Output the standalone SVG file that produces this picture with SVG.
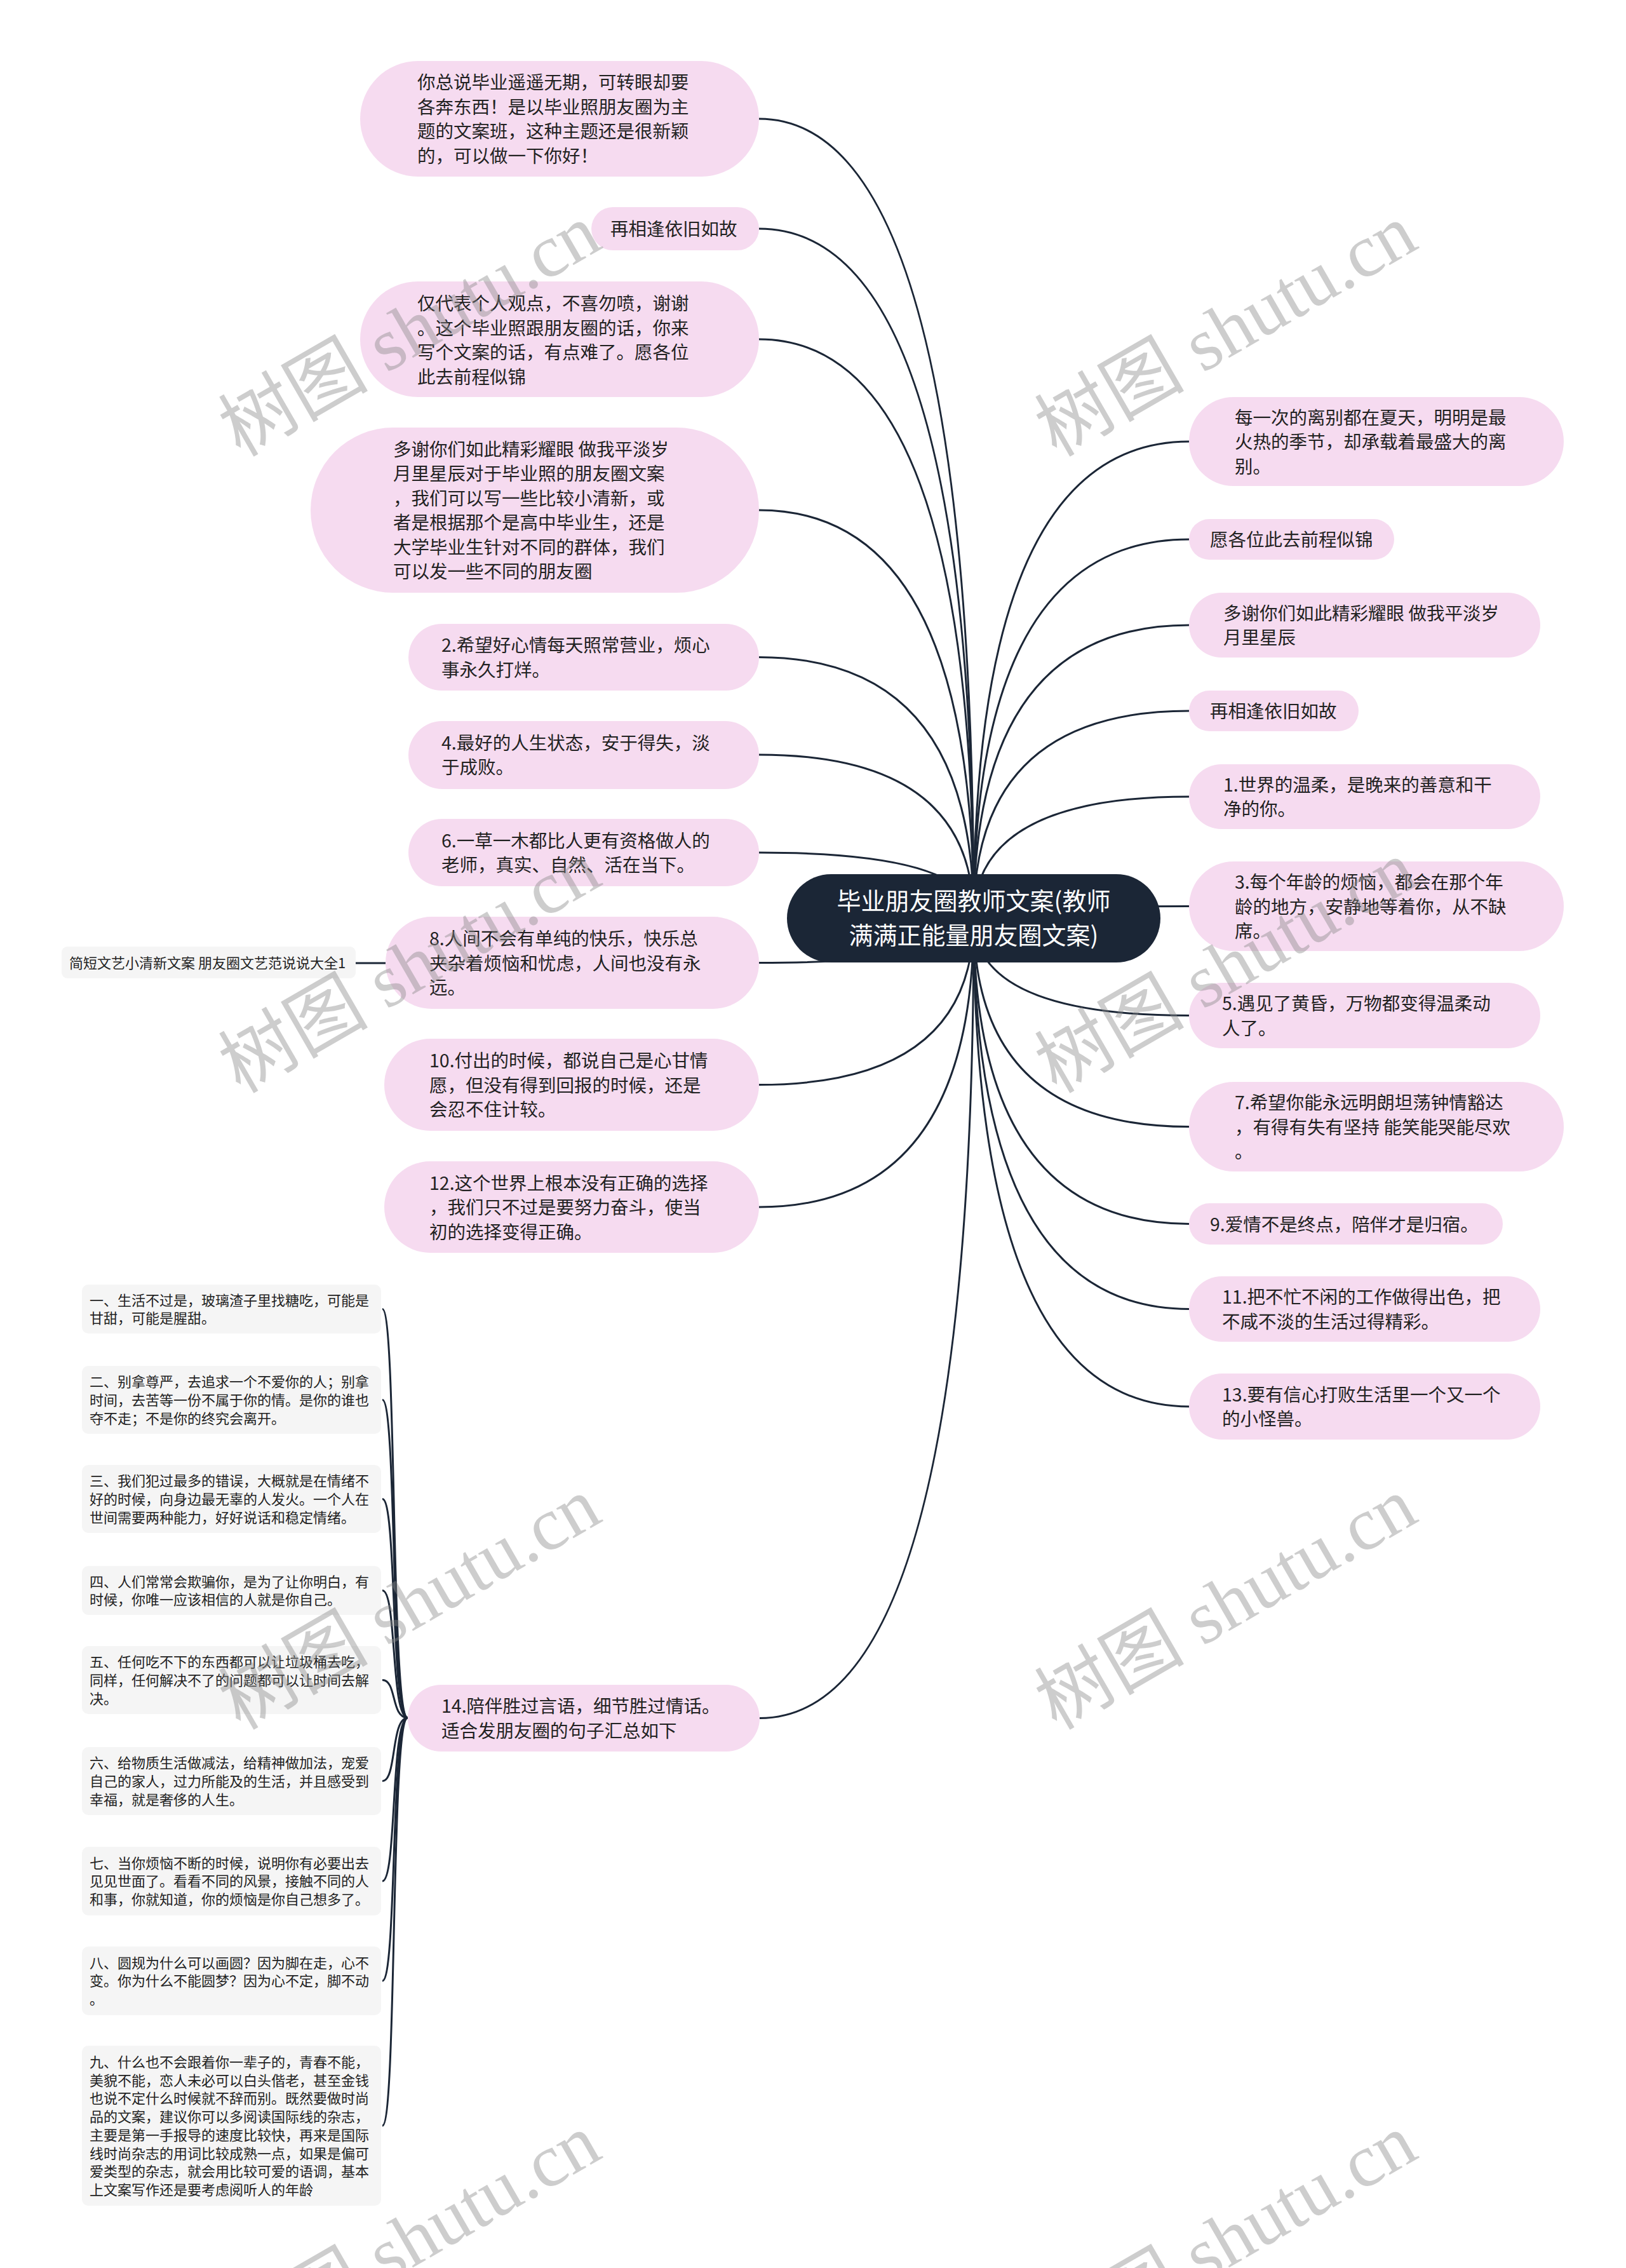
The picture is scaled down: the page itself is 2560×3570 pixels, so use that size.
<svg xmlns="http://www.w3.org/2000/svg" width="2560" height="3570" viewBox="0 0 2560 3570">
<style>
.bg{fill:#ffffff}
.pink{fill:#f6dbf0}
.gray{fill:#f5f5f5}
.root{fill:#1b2636}
.t{font-family:"Noto Sans CJK SC","Noto Sans",sans-serif;font-size:28.5px;fill:#222222}
.ts{font-family:"Noto Sans CJK SC","Noto Sans",sans-serif;font-size:22px;fill:#222222}
.tr{font-family:"Noto Sans CJK SC","Noto Sans",sans-serif;font-size:38px;fill:#ffffff}
.c{fill:none;stroke:#1b2636;stroke-width:3}
.wm{font-family:"Liberation Serif","Noto Sans CJK SC",serif;font-size:118px;fill:#8a8a8a;opacity:0.42}
</style>
<rect class="bg" x="0" y="0" width="2560" height="3570"/>
<g id="connectors">
<path class="c" d="M1533 1445 Q1533 187 1195 187"/>
<path class="c" d="M1533 1445 Q1533 360 1195 360"/>
<path class="c" d="M1533 1445 Q1533 534 1195 534"/>
<path class="c" d="M1533 1445 Q1533 803 1195 803"/>
<path class="c" d="M1533 1445 Q1533 1034.5 1195 1034.5"/>
<path class="c" d="M1533 1445 Q1533 1188 1195 1188"/>
<path class="c" d="M1533 1445 Q1533 1342 1195 1342"/>
<path class="c" d="M1533 1445 Q1533 1515.5 1195 1515.5"/>
<path class="c" d="M1533 1445 Q1533 1707.5 1195 1707.5"/>
<path class="c" d="M1533 1445 Q1533 1900 1195 1900"/>
<path class="c" d="M1533 1445 Q1533 2704.5 1196 2704.5"/>
<path class="c" d="M1533 1445 Q1533 695 1872 695"/>
<path class="c" d="M1533 1445 Q1533 849 1872 849"/>
<path class="c" d="M1533 1445 Q1533 984 1872 984"/>
<path class="c" d="M1533 1445 Q1533 1119 1872 1119"/>
<path class="c" d="M1533 1445 Q1533 1254 1872 1254"/>
<path class="c" d="M1533 1445 Q1533 1426.5 1872 1426.5"/>
<path class="c" d="M1533 1445 Q1533 1598.5 1872 1598.5"/>
<path class="c" d="M1533 1445 Q1533 1773.5 1872 1773.5"/>
<path class="c" d="M1533 1445 Q1533 1926.5 1872 1926.5"/>
<path class="c" d="M1533 1445 Q1533 2060.5 1872 2060.5"/>
<path class="c" d="M1533 1445 Q1533 2214 1872 2214"/>
<path class="c" d="M607 1516 H560"/>
<path class="c" d="M642 2704 C615 2704 625 2060.5 602 2060.5"/>
<path class="c" d="M642 2704 C615 2704 625 2203.5 602 2203.5"/>
<path class="c" d="M642 2704 C615 2704 625 2359.5 602 2359.5"/>
<path class="c" d="M642 2704 C615 2704 625 2503.5 602 2503.5"/>
<path class="c" d="M642 2704 C615 2704 625 2644.5 602 2644.5"/>
<path class="c" d="M642 2704 C615 2704 625 2803.5 602 2803.5"/>
<path class="c" d="M642 2704 C615 2704 625 2961 602 2961"/>
<path class="c" d="M642 2704 C615 2704 625 3118 602 3118"/>
<path class="c" d="M642 2704 C615 2704 625 3346 602 3346"/>
</g>
<g id="root">
<rect class="root" x="1239" y="1376" width="588" height="139" rx="69.5"/>
<text class="tr" x="1533" y="1432" text-anchor="middle">毕业朋友圈教师文案(教师</text>
<text class="tr" x="1533" y="1486" text-anchor="middle">满满正能量朋友圈文案)</text>
</g>
<g id="n1">
<rect class="pink" x="567" y="96" width="628" height="182" rx="91"/>
<text class="t" x="657" y="140">你总说毕业遥遥无期，可转眼却要</text>
<text class="t" x="657" y="178.5">各奔东西！是以毕业照朋友圈为主</text>
<text class="t" x="657" y="217">题的文案班，这种主题还是很新颖</text>
<text class="t" x="657" y="255.5">的，可以做一下你好！</text>
</g>
<g id="n2">
<rect class="pink" x="931" y="326" width="264" height="68" rx="34"/>
<text class="t" x="961" y="371">再相逢依旧如故</text>
</g>
<g id="n3">
<rect class="pink" x="567" y="443" width="628" height="182" rx="91"/>
<text class="t" x="657" y="488">仅代表个人观点，不喜勿喷，谢谢</text>
<text class="t" x="657" y="526.5">。这个毕业照跟朋友圈的话，你来</text>
<text class="t" x="657" y="565">写个文案的话，有点难了。愿各位</text>
<text class="t" x="657" y="603.5">此去前程似锦</text>
</g>
<g id="n4">
<rect class="pink" x="489" y="673" width="706" height="260" rx="130"/>
<text class="t" x="619" y="717.75">多谢你们如此精彩耀眼 做我平淡岁</text>
<text class="t" x="619" y="756.25">月里星辰对于毕业照的朋友圈文案</text>
<text class="t" x="619" y="794.75">，我们可以写一些比较小清新，或</text>
<text class="t" x="619" y="833.25">者是根据那个是高中毕业生，还是</text>
<text class="t" x="619" y="871.75">大学毕业生针对不同的群体，我们</text>
<text class="t" x="619" y="910.25">可以发一些不同的朋友圈</text>
</g>
<g id="n5">
<rect class="pink" x="643" y="982" width="552" height="105" rx="52.5"/>
<text class="t" x="695" y="1026.25">2.希望好心情每天照常营业，烦心</text>
<text class="t" x="695" y="1064.75">事永久打烊。</text>
</g>
<g id="n6">
<rect class="pink" x="643" y="1135" width="552" height="107" rx="53.5"/>
<text class="t" x="695" y="1179.75">4.最好的人生状态，安于得失，淡</text>
<text class="t" x="695" y="1218.25">于成败。</text>
</g>
<g id="n7">
<rect class="pink" x="643" y="1289" width="552" height="106" rx="53"/>
<text class="t" x="695" y="1333.75">6.一草一木都比人更有资格做人的</text>
<text class="t" x="695" y="1372.25">老师，真实、自然、活在当下。</text>
</g>
<g id="n8">
<rect class="pink" x="607" y="1443" width="588" height="145" rx="72.5"/>
<text class="t" x="676" y="1488">8.人间不会有单纯的快乐，快乐总</text>
<text class="t" x="676" y="1526.5">夹杂着烦恼和忧虑，人间也没有永</text>
<text class="t" x="676" y="1565">远。</text>
</g>
<g id="n8a">
<rect class="gray" x="97" y="1490" width="463" height="50" rx="9"/>
<text class="ts" x="109" y="1524.4">简短文艺小清新文案 朋友圈文艺范说说大全1</text>
</g>
<g id="n9">
<rect class="pink" x="605" y="1635" width="590" height="145" rx="72.5"/>
<text class="t" x="676" y="1680">10.付出的时候，都说自己是心甘情</text>
<text class="t" x="676" y="1718.5">愿，但没有得到回报的时候，还是</text>
<text class="t" x="676" y="1757">会忍不住计较。</text>
</g>
<g id="n10">
<rect class="pink" x="605" y="1828" width="590" height="144" rx="72"/>
<text class="t" x="676" y="1872.5">12.这个世界上根本没有正确的选择</text>
<text class="t" x="676" y="1911">，我们只不过是要努力奋斗，使当</text>
<text class="t" x="676" y="1949.5">初的选择变得正确。</text>
</g>
<g id="n14">
<rect class="pink" x="642" y="2652" width="554" height="105" rx="52.5"/>
<text class="t" x="695" y="2696.25">14.陪伴胜过言语，细节胜过情话。</text>
<text class="t" x="695" y="2734.75">适合发朋友圈的句子汇总如下</text>
</g>
<g id="i1">
<rect class="gray" x="129" y="2022" width="471" height="77" rx="10"/>
<text class="ts" x="141" y="2054.6">一、生活不过是，玻璃渣子里找糖吃，可能是</text>
<text class="ts" x="141" y="2083.3">甘甜，可能是腥甜。</text>
</g>
<g id="i2">
<rect class="gray" x="129" y="2150" width="471" height="107" rx="10"/>
<text class="ts" x="141" y="2183.2">二、别拿尊严，去追求一个不爱你的人；别拿</text>
<text class="ts" x="141" y="2211.9">时间，去苦等一份不属于你的情。是你的谁也</text>
<text class="ts" x="141" y="2240.6">夺不走；不是你的终究会离开。</text>
</g>
<g id="i3">
<rect class="gray" x="129" y="2306" width="471" height="107" rx="10"/>
<text class="ts" x="141" y="2339.2">三、我们犯过最多的错误，大概就是在情绪不</text>
<text class="ts" x="141" y="2367.9">好的时候，向身边最无辜的人发火。一个人在</text>
<text class="ts" x="141" y="2396.6">世间需要两种能力，好好说话和稳定情绪。</text>
</g>
<g id="i4">
<rect class="gray" x="129" y="2465" width="471" height="77" rx="10"/>
<text class="ts" x="141" y="2497.6">四、人们常常会欺骗你，是为了让你明白，有</text>
<text class="ts" x="141" y="2526.3">时候，你唯一应该相信的人就是你自己。</text>
</g>
<g id="i5">
<rect class="gray" x="129" y="2591" width="471" height="107" rx="10"/>
<text class="ts" x="141" y="2624.2">五、任何吃不下的东西都可以让垃圾桶去吃，</text>
<text class="ts" x="141" y="2652.9">同样，任何解决不了的问题都可以让时间去解</text>
<text class="ts" x="141" y="2681.6">决。</text>
</g>
<g id="i6">
<rect class="gray" x="129" y="2750" width="471" height="107" rx="10"/>
<text class="ts" x="141" y="2783.2">六、给物质生活做减法，给精神做加法，宠爱</text>
<text class="ts" x="141" y="2811.9">自己的家人，过力所能及的生活，并且感受到</text>
<text class="ts" x="141" y="2840.6">幸福，就是奢侈的人生。</text>
</g>
<g id="i7">
<rect class="gray" x="129" y="2907" width="471" height="108" rx="10"/>
<text class="ts" x="141" y="2940.7">七、当你烦恼不断的时候，说明你有必要出去</text>
<text class="ts" x="141" y="2969.4">见见世面了。看看不同的风景，接触不同的人</text>
<text class="ts" x="141" y="2998.1">和事，你就知道，你的烦恼是你自己想多了。</text>
</g>
<g id="i8">
<rect class="gray" x="129" y="3064" width="471" height="108" rx="10"/>
<text class="ts" x="141" y="3097.7">八、圆规为什么可以画圆？因为脚在走，心不</text>
<text class="ts" x="141" y="3126.4">变。你为什么不能圆梦？因为心不定，脚不动</text>
<text class="ts" x="141" y="3155.1">。</text>
</g>
<g id="i9">
<rect class="gray" x="129" y="3220" width="471" height="252" rx="10"/>
<text class="ts" x="141" y="3254">九、什么也不会跟着你一辈子的，青春不能，</text>
<text class="ts" x="141" y="3282.7">美貌不能，恋人未必可以白头偕老，甚至金钱</text>
<text class="ts" x="141" y="3311.4">也说不定什么时候就不辞而别。既然要做时尚</text>
<text class="ts" x="141" y="3340.1">品的文案，建议你可以多阅读国际线的杂志，</text>
<text class="ts" x="141" y="3368.8">主要是第一手报导的速度比较快，再来是国际</text>
<text class="ts" x="141" y="3397.5">线时尚杂志的用词比较成熟一点，如果是偏可</text>
<text class="ts" x="141" y="3426.2">爱类型的杂志，就会用比较可爱的语调，基本</text>
<text class="ts" x="141" y="3454.9">上文案写作还是要考虑阅听人的年龄</text>
</g>
<g id="r1">
<rect class="pink" x="1872" y="625" width="590" height="140" rx="70"/>
<text class="t" x="1944" y="667.5">每一次的离别都在夏天，明明是最</text>
<text class="t" x="1944" y="706">火热的季节，却承载着最盛大的离</text>
<text class="t" x="1944" y="744.5">别。</text>
</g>
<g id="r2">
<rect class="pink" x="1872" y="817" width="323" height="64" rx="32"/>
<text class="t" x="1905" y="860">愿各位此去前程似锦</text>
</g>
<g id="r3">
<rect class="pink" x="1872" y="933" width="553" height="102" rx="51"/>
<text class="t" x="1926" y="975.75">多谢你们如此精彩耀眼 做我平淡岁</text>
<text class="t" x="1926" y="1014.25">月里星辰</text>
</g>
<g id="r4">
<rect class="pink" x="1872" y="1087" width="267" height="64" rx="32"/>
<text class="t" x="1905" y="1130">再相逢依旧如故</text>
</g>
<g id="r5">
<rect class="pink" x="1872" y="1203" width="553" height="102" rx="51"/>
<text class="t" x="1926" y="1245.75">1.世界的温柔，是晚来的善意和干</text>
<text class="t" x="1926" y="1284.25">净的你。</text>
</g>
<g id="r6">
<rect class="pink" x="1872" y="1356" width="590" height="141" rx="70.5"/>
<text class="t" x="1944" y="1399">3.每个年龄的烦恼，都会在那个年</text>
<text class="t" x="1944" y="1437.5">龄的地方，安静地等着你，从不缺</text>
<text class="t" x="1944" y="1476">席。</text>
</g>
<g id="r7">
<rect class="pink" x="1872" y="1547" width="553" height="103" rx="51.5"/>
<text class="t" x="1924" y="1590.25">5.遇见了黄昏，万物都变得温柔动</text>
<text class="t" x="1924" y="1628.75">人了。</text>
</g>
<g id="r8">
<rect class="pink" x="1872" y="1703" width="590" height="141" rx="70.5"/>
<text class="t" x="1944" y="1746">7.希望你能永远明朗坦荡钟情豁达</text>
<text class="t" x="1944" y="1784.5">，有得有失有坚持 能笑能哭能尽欢</text>
<text class="t" x="1944" y="1823">。</text>
</g>
<g id="r9">
<rect class="pink" x="1872" y="1894" width="494" height="65" rx="32.5"/>
<text class="t" x="1905" y="1937.5">9.爱情不是终点，陪伴才是归宿。</text>
</g>
<g id="r10">
<rect class="pink" x="1872" y="2009" width="553" height="103" rx="51.5"/>
<text class="t" x="1924" y="2052.25">11.把不忙不闲的工作做得出色，把</text>
<text class="t" x="1924" y="2090.75">不咸不淡的生活过得精彩。</text>
</g>
<g id="r11">
<rect class="pink" x="1872" y="2162" width="553" height="104" rx="52"/>
<text class="t" x="1924" y="2205.75">13.要有信心打败生活里一个又一个</text>
<text class="t" x="1924" y="2244.25">的小怪兽。</text>
</g>
<g id="watermarks">
<text class="wm" x="645" y="560" text-anchor="middle" transform="rotate(-30 645 520)">树图 shutu.cn</text>
<text class="wm" x="1930" y="560" text-anchor="middle" transform="rotate(-30 1930 520)">树图 shutu.cn</text>
<text class="wm" x="645" y="1562" text-anchor="middle" transform="rotate(-30 645 1522)">树图 shutu.cn</text>
<text class="wm" x="1930" y="1562" text-anchor="middle" transform="rotate(-30 1930 1522)">树图 shutu.cn</text>
<text class="wm" x="645" y="2564" text-anchor="middle" transform="rotate(-30 645 2524)">树图 shutu.cn</text>
<text class="wm" x="1930" y="2564" text-anchor="middle" transform="rotate(-30 1930 2524)">树图 shutu.cn</text>
<text class="wm" x="645" y="3566" text-anchor="middle" transform="rotate(-30 645 3526)">树图 shutu.cn</text>
<text class="wm" x="1930" y="3566" text-anchor="middle" transform="rotate(-30 1930 3526)">树图 shutu.cn</text>
</g>
</svg>
